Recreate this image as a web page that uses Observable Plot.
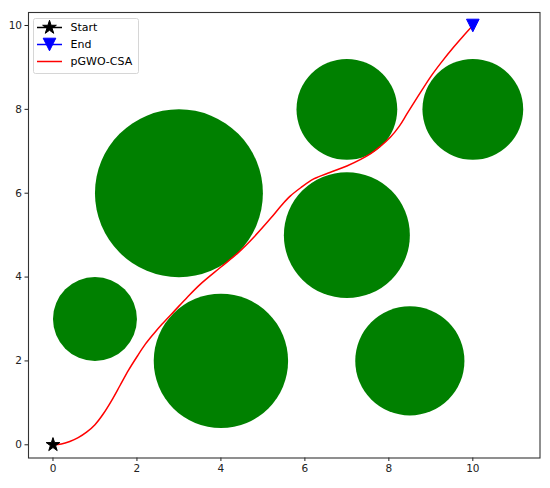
<!DOCTYPE html>
<html><head>
<meta charset="utf-8">
<script src="https://cdn.jsdelivr.net/npm/d3@7"></script>
<script src="https://cdn.jsdelivr.net/npm/@observablehq/plot@0.6"></script>
<style>body{margin:0;background:#fff;font-family:"DejaVu Sans",sans-serif}</style>
</head><body><div id="chart"></div>
<script>
// Obstacles (circles)
const obstacleX = [1, 3, 4, 7, 7, 8.5, 10];
const obstacleY = [3, 6, 2, 8, 5, 2, 8];
const obstacleR = [1, 2, 1.6, 1.2, 1.5, 1.3, 1.2];
// pGWO-CSA path
const pathX = [0, 0.2, 0.4, 0.6, 0.8, 1.0, 1.2, 1.4, 1.6, 1.8, 2.0, 2.2, 2.4, 2.6, 2.9, 3.2, 3.5, 4.0, 4.42, 4.8, 5.2, 5.45, 5.65, 5.9, 6.21, 6.61, 7.0, 7.56, 7.8, 8.04, 8.25, 8.43, 8.7, 8.99, 9.25, 9.54, 9.8, 10];
const pathY = [0, 0.02, 0.08, 0.17, 0.3, 0.48, 0.74, 1.06, 1.42, 1.78, 2.1, 2.4, 2.65, 2.88, 3.2, 3.52, 3.82, 4.24, 4.59, 4.97, 5.42, 5.72, 5.93, 6.13, 6.34, 6.5, 6.65, 6.94, 7.12, 7.34, 7.6, 7.89, 8.32, 8.77, 9.12, 9.48, 9.78, 10];
const startPt = {x: 0, y: 0};
const endPt = {x: 10, y: 10};
const xTicks = [0, 2, 4, 6, 8, 10];
const yTicks = [0, 2, 4, 6, 8, 10];
const legendLabels = ["Start", "End", "pGWO-CSA"];

const W = 550, H = 488, mL = 28, mR = 10.5, mT = 12, mB = 30.5;
const xDom = [-0.583, 11.6], yDom = [-0.315, 10.31];
const k = (W - mL - mR) / (xDom[1] - xDom[0]); // px per data unit

const obstacles = obstacleX.map((x, i) => ({x, y: obstacleY[i], r: obstacleR[i] * k}));
const path = pathX.map((x, i) => ({x, y: pathY[i]}));

const triDown = {draw(ctx, size) { const r = 6.3; ctx.moveTo(-r, -r); ctx.lineTo(r, -r); ctx.lineTo(0, r); ctx.closePath(); }};
const star = {draw(ctx, size) { d3.symbolStar.draw(ctx, 58); }};

const chart = Plot.plot({
  width: W, height: H,
  marginLeft: mL, marginRight: mR, marginTop: mT, marginBottom: mB,
  style: {fontFamily: "DejaVu Sans", fontSize: "10.5px", color: "#222", background: "#fff"},
  x: {domain: xDom, ticks: xTicks, tickFormat: d => String(d), label: null, tickSize: 3.5, tickPadding: 3},
  y: {domain: yDom, ticks: yTicks, tickFormat: d => String(d), label: null, tickSize: 3.5, tickPadding: 3},
  r: {type: "identity"},
  marks: [
    Plot.dot(obstacles, {x: "x", y: "y", r: "r", fill: "#008000", stroke: "none"}),
    Plot.line(path, {x: "x", y: "y", stroke: "red", strokeWidth: 1.5, curve: "catmull-rom"}),
    Plot.dot([startPt], {x: "x", y: "y", symbol: star, fill: "black", stroke: "black", strokeWidth: 1, r: 5}),
    Plot.dot([endPt], {x: "x", y: "y", symbol: triDown, fill: "blue", stroke: "blue", strokeWidth: 1, r: 5}),
    Plot.frame({stroke: "#333", strokeWidth: 1.1})
  ]
});
document.getElementById("chart").appendChild(chart);

// Legend inside plot (upper-left)
const svg = d3.select(chart);
const lg = svg.append("g").attr("font-family", "DejaVu Sans").attr("font-size", 11).attr("text-anchor", "start");
lg.append("rect").attr("x", 33.5).attr("y", 18.5).attr("width", 105).attr("height", 55)
  .attr("rx", 2).attr("fill", "#fff").attr("fill-opacity", 0.8).attr("stroke", "#d6d6d6");
const rowY = [27.5, 44.5, 61.5];
const colors = ["black", "blue", "red"];
legendLabels.forEach((lab, i) => {
  lg.append("line").attr("x1", 37).attr("x2", 62).attr("y1", rowY[i]).attr("y2", rowY[i])
    .attr("stroke", colors[i]).attr("stroke-width", 1.5);
  lg.append("text").attr("x", 70.5).attr("y", rowY[i]).attr("dy", "0.35em").attr("fill", "#000")
    .attr("text-anchor", "start").text(lab);
});
lg.append("path").attr("transform", `translate(49.5,${rowY[0]})`)
  .attr("d", d3.symbol(d3.symbolStar, 58)()).attr("fill", "black").attr("stroke", "black");
lg.append("path").attr("transform", `translate(49.5,${rowY[1]})`)
  .attr("d", "M-6.3,-6.3L6.3,-6.3L0,6.3Z").attr("fill", "blue").attr("stroke", "blue");
</script>
</body></html>
